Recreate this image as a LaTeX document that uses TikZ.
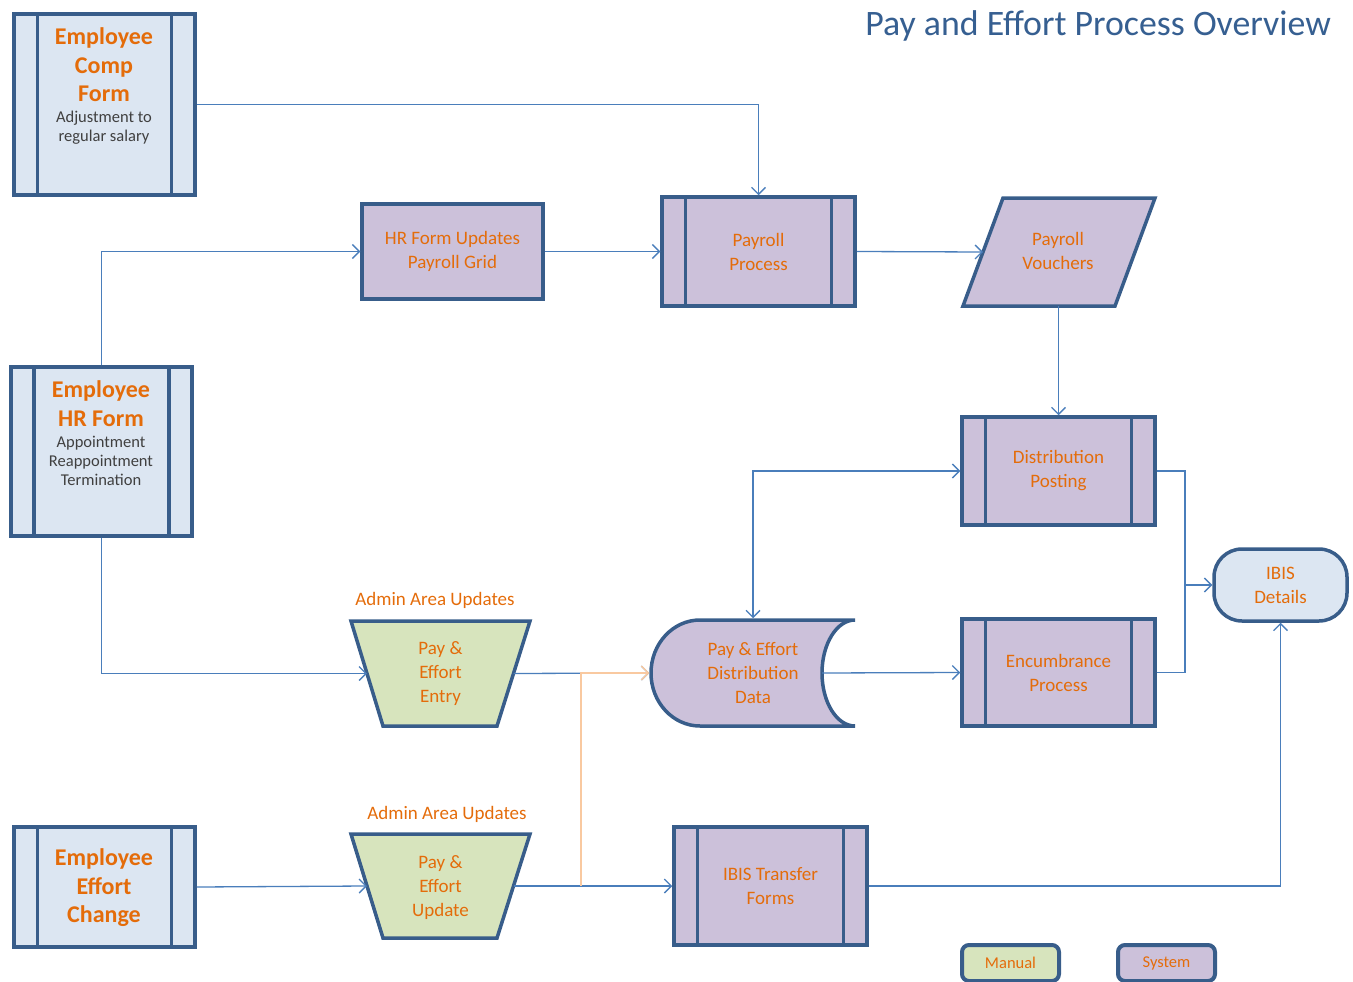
\documentclass[tikz,border=0pt]{standalone}
\usepackage{fontspec}
\setmainfont{Carlito}
\usetikzlibrary{arrows.meta}
\definecolor{bd}{HTML}{385D8A}
\definecolor{ln}{HTML}{4A7EBB}
\definecolor{peach}{HTML}{F9C9A0}
\definecolor{org}{HTML}{E46C0A}
\definecolor{lb}{HTML}{DCE6F2}
\definecolor{lav}{HTML}{CCC1DA}
\definecolor{grn}{HTML}{D7E4BD}
\definecolor{subc}{HTML}{404040}
\definecolor{ttl}{HTML}{365F91}
\begin{document}
\begin{tikzpicture}[x=1pt,y=-1pt,
  shp/.style={draw=bd,line width=3.5pt,inner sep=0pt,text=org,align=center,font=\fontsize{19}{24}\selectfont},
  emp/.style={shp,fill=lb},
  sysbox/.style={shp,fill=lav},
  manbox/.style={shp,fill=grn},
  outline/.style={draw=bd,line width=3.5pt,line join=miter},
  txt/.style={shp,draw=none,fill=none},
  bars/.style={path picture={\draw[bd,line width=3.5pt]
      ([xshift=#1]path picture bounding box.north west) -- ([xshift=#1]path picture bounding box.south west)
      ([xshift=-#1]path picture bounding box.north east) -- ([xshift=-#1]path picture bounding box.south east);}},
  bars/.default=23.5pt,
  ettl/.style={inner sep=0pt,align=center,text=org,font=\bfseries\fontsize{24}{28.5}\selectfont},
  esub/.style={inner sep=0pt,align=center,text=subc,font=\fontsize{16.5}{19}\selectfont},
  lbl/.style={inner sep=0pt,text=org,font=\fontsize{19}{24}\selectfont},
  legend/.style={shp,line width=4pt,rounded corners=7pt,minimum width=97pt,minimum height=36pt,font=\fontsize{16.5}{18}\selectfont},
  conn/.style={draw=ln,line width=1.3pt,>={Straight Barb[length=7pt,width=14pt]}},
  pconn/.style={conn,draw=peach}
]
\useasboundingbox (0,0) rectangle (1353,982);

% title
\node[anchor=base east,text=ttl,inner sep=0pt,font=\fontsize{35.8}{40}\selectfont] (title) at (1331,36) {Pay and Effort Process Overview};

% employee forms
\node[emp,bars,minimum width=181pt,minimum height=181pt] (comp) at (104.5,104.5) {};
\node[ettl] (compT) at (104,65) {Employee\\Comp\\Form};
\node[esub] (compS) at (104,128) {Adjustment to\\regular salary};

\node[emp,bars=23pt,minimum width=181pt,minimum height=169pt] (hr) at (101.5,451.5) {};
\node[ettl] (hrT) at (101,403.5) {Employee\\HR Form};
\node[esub] (hrS) at (101,460.5) {Appointment\\Reappointment\\Termination};

\node[emp,bars,minimum width=181pt,minimum height=120pt] (eff) at (104.5,887) {};
\node[ettl] (effT) at (104,888) {Employee\\Effort\\Change};

% system boxes
\node[sysbox,minimum width=181pt,minimum height=95pt] (hrupd) at (452.5,251.5) {HR Form Updates\\Payroll Grid};
\node[sysbox,bars,minimum width=193pt,minimum height=109pt] (pp) at (758.5,251.5) {Payroll\\Process};

\filldraw[outline,fill=lav] (1003,198) -- (1155,198) -- (1115,306) -- (963,306) -- cycle;
\node[txt] (pv) at (1058,251) {Payroll\\Vouchers};
\coordinate (pvW) at (983,252);
\coordinate (pvS) at (1058.5,306);

\node[sysbox,bars,minimum width=193pt,minimum height=108pt] (dist) at (1058.5,471) {Distribution\\Posting};
\node[sysbox,bars,minimum width=193pt,minimum height=107pt] (enc) at (1058.5,672.5) {Encumbrance\\Process};
\node[sysbox,bars,minimum width=193pt,minimum height=118pt] (tra) at (770.5,886) {IBIS Transfer\\Forms};
\node[emp,rounded corners=28pt,minimum width=133pt,minimum height=72pt] (ibis) at (1280.5,585) {IBIS\\Details};

% stored data shape
\filldraw[outline,fill=lav]
  (700,620) -- (855,620) arc[start angle=90,end angle=270,x radius=33pt,y radius=53pt]
  -- (700,726) arc[start angle=270,end angle=90,x radius=49pt,y radius=53pt] -- cycle;
\node[txt,minimum width=204pt,minimum height=106pt] (data) at (753,673) {Pay \& Effort\\Distribution\\Data};
\coordinate (dataR) at (822,673);

% manual steps
\node[lbl] (al1) at (435,600) {Admin Area Updates};
\filldraw[outline,fill=grn] (351,621) -- (530,621) -- (497,726) -- (383,726) -- cycle;
\node[txt] (entry) at (440.5,674) {Pay \&\\Effort\\Entry};
\coordinate (entryW) at (367,673.5);
\coordinate (entryE) at (513.5,673.5);

\node[lbl] (al2) at (447,814) {Admin Area Updates};
\filldraw[outline,fill=grn] (351,834) -- (530,834) -- (497,938) -- (383,938) -- cycle;
\node[txt] (upd) at (440.5,887.5) {Pay \&\\Effort\\Update};
\coordinate (updW) at (367,886);
\coordinate (updE) at (513.5,886);

% legend
\node[legend,fill=grn] (man) at (1010.5,963) {Manual};
\node[legend,fill=lav] (sysl) at (1166.5,963) {System};

% connectors
\draw[conn,->] (comp.east) -| (pp.north);
\draw[conn,->] (hr.north) |- (hrupd.west);
\draw[conn,->] (hrupd.east) -- (pp.west);
\draw[conn,->] (pp.east) -- (pvW);
\draw[conn,->] (pvS) -- (pvS |- dist.north);
\draw[conn,<->] (dist.west) -| (data.north);
\draw[conn,->] (dataR) -- (enc.west);
\coordinate (jn) at (1185,585);
\draw[conn] (dist.east) -| (jn);
\draw[conn] (enc.east) -| (jn);
\draw[conn,->] (jn) -- (ibis.west);
\draw[conn,->] (hr.south) |- (entryW);
\draw[conn,->] (entryE) -- (data.west);
\draw[conn,->] (eff.east) -- (updW);
\draw[conn,->] (updE) -- (tra.west);
\draw[conn,->] (tra.east) -| (ibis.south);
\coordinate (pj) at (581,886);
\draw[pconn,->] (pj) |- (data.west);
\end{tikzpicture}
\end{document}
